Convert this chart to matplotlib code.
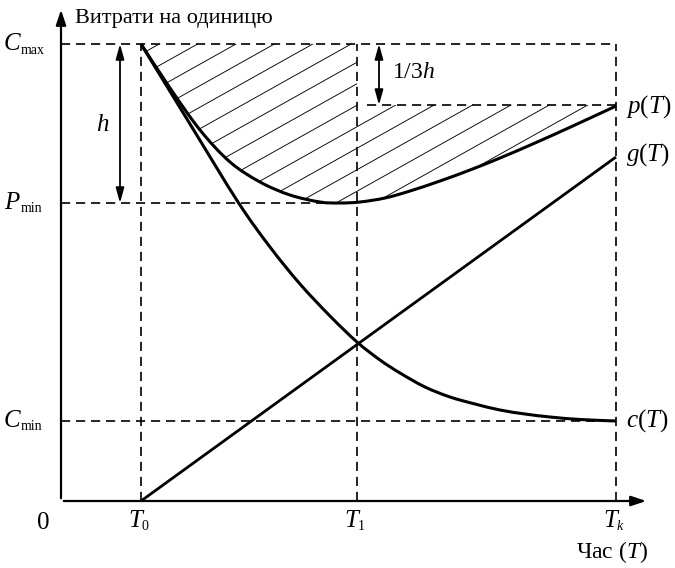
import numpy as np
import matplotlib.pyplot as plt
from matplotlib.patches import Polygon, PathPatch
from matplotlib.path import Path

plt.rcParams['font.family'] = ['Liberation Serif', 'DejaVu Serif']
plt.rcParams['mathtext.fontset'] = 'custom'
plt.rcParams['mathtext.rm'] = 'Liberation Serif'
plt.rcParams['mathtext.it'] = 'Liberation Serif:italic'

# key points on the time axis and the cost axis (chart units)
t0, t1, tk = 80, 296, 555
c_max, p_min, c_min = 457, 298, 80
third_level = 396

# c(T) - falling unit cost
c_t = [80, 129, 177, 209, 239, 269, 296, 319, 339, 364, 389, 414, 439, 464, 489, 519, 555]
c_v = [457, 377, 299, 254, 217, 185, 159, 141, 128, 114, 104, 97, 91, 87, 84, 81.5, 80]

# p(T) - total unit cost
p_t = [80, 109, 139, 169, 199, 229, 259, 279, 299, 324, 349, 379, 409, 439, 474, 514, 555]
p_v = [457, 413, 371, 339, 319, 306, 299, 298, 299, 303, 310, 320, 331, 343, 358, 376, 395]

# g(T) - rising cost
g_t = [t0, tk]
g_v = [0, 344]


def smooth_path(xs, ys):
    # cubic Bezier path through the given points (Catmull-Rom tangents)
    pts = np.column_stack([xs, ys]).astype(float)
    n = len(pts)
    verts = [pts[0]]
    codes = [Path.MOVETO]
    for i in range(n - 1):
        p0 = pts[max(i - 1, 0)]
        p1 = pts[i]
        p2 = pts[i + 1]
        p3 = pts[min(i + 2, n - 1)]
        verts += [p1 + (p2 - p0) / 6, p2 - (p3 - p1) / 6, p2]
        codes += [Path.CURVE4] * 3
    return Path(verts, codes)


fig = plt.figure(figsize=(6.75, 5.68), dpi=100)
ax = fig.add_axes([0, 0, 1, 1])
ax.set_xlim(-61, 614)
ax.set_ylim(-67, 501)
ax.axis('off')

dash = dict(color='black', lw=1.2, ls=(0, (5.5, 3.5)))

# dashed guide lines
ax.plot([0, tk], [c_max, c_max], **dash)
ax.plot([0, t1], [p_min, p_min], **dash)
ax.plot([0, tk], [c_min, c_min], **dash)
ax.plot([t1 + 10, tk], [third_level, third_level], **dash)
for t in (t0, t1, tk):
    ax.plot([t, t], [0, c_max], **dash)

# hatched area between p(T) and the upper bound
p_path = smooth_path(p_t, p_v)
p_pts = p_path.to_polygons(closed_only=False)[0]
top = [(t0, c_max), (t1, c_max), (t1, third_level), (tk, third_level)]
poly = Polygon(top + [tuple(v) for v in p_pts[::-1]], closed=True, fill=False, lw=0)
ax.add_patch(poly)
slope = 0.56
for off in np.arange(-200, 600, 21.5):
    xs = np.array([0, 600])
    ln, = ax.plot(xs, slope * xs + off, color='black', lw=0.65)
    ln.set_clip_path(poly)

# curves
ax.add_patch(PathPatch(smooth_path(c_t, c_v), fill=False, color='black', lw=2.2, capstyle='butt'))
ax.add_patch(PathPatch(p_path, fill=False, color='black', lw=2.2, capstyle='butt'))
ax.plot(g_t, g_v, color='black', lw=2.0, solid_capstyle='butt')

# axes with arrows
ax.annotate('', xy=(0, 494), xytext=(0, 0),
            arrowprops=dict(arrowstyle='-|>,head_length=0.9,head_width=0.3', color='black', lw=1.6))
ax.annotate('', xy=(588, 0), xytext=(0, 0),
            arrowprops=dict(arrowstyle='-|>,head_length=0.9,head_width=0.3', color='black', lw=1.6))

# double arrows h and 1/3h
ax.annotate('', xy=(59, p_min), xytext=(59, c_max),
            arrowprops=dict(arrowstyle='<|-|>,head_length=0.9,head_width=0.25', color='black', lw=1.3,
                            shrinkA=0, shrinkB=0))
ax.annotate('', xy=(318, third_level), xytext=(318, c_max),
            arrowprops=dict(arrowstyle='<|-|>,head_length=0.9,head_width=0.25', color='black', lw=1.3,
                            shrinkA=0, shrinkB=0))

fs = 16
big = 18
small = 10
ax.text(14, 483, 'Витрати на одиницю', fontsize=fs, ha='left', va='center')

# left-side level labels: italic letter + small upright subscript
for letter, sub, y in (('C', 'max', c_max), ('P', 'min', p_min), ('C', 'min', c_min)):
    ax.text(-57, y, letter, fontsize=big, style='italic', ha='left', va='center')
    ax.text(-40, y - 6, sub, fontsize=small, ha='left', va='center')

ax.text(-18, -22, '0', fontsize=big, ha='center', va='center')
for t, sub in ((t0, '0'), (t1, '1'), (tk, 'k')):
    ax.text(t + 1, -20, 'T', fontsize=big, style='italic', ha='right', va='center')
    ax.text(t + 1, -26, sub, fontsize=small, style='italic' if sub == 'k' else 'normal',
            ha='left', va='center')

ax.text(551, -51, r'Час $(T)$', fontsize=fs + 1, ha='center', va='center')
ax.text(565, 394, r'$p(T)$', fontsize=big, ha='left', va='center')
ax.text(565, 346, r'$g(T)$', fontsize=big, ha='left', va='center')
ax.text(565, 80, r'$c(T)$', fontsize=big, ha='left', va='center')
ax.text(42, 376, r'$h$', fontsize=big, ha='center', va='center')
ax.text(331, 429, r'$1/3h$', fontsize=fs + 1, ha='left', va='center')

fig.savefig('out.png', dpi=100)
